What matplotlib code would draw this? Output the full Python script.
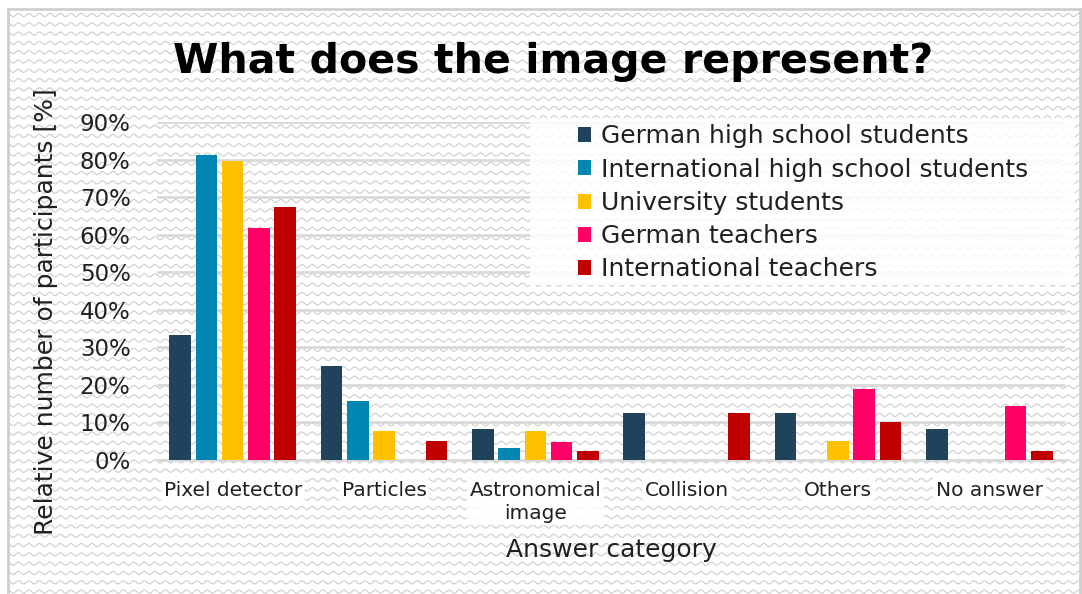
import numpy as np
import matplotlib
matplotlib.use("Agg")
import matplotlib.pyplot as plt
from matplotlib.patches import Rectangle

categories = ["Pixel detector", "Particles", "Astronomical\nimage", "Collision", "Others", "No answer"]
groups = ["German high school students", "International high school students",
          "University students", "German teachers", "International teachers"]
colors = ["#1f435a", "#0086b0", "#ffc000", "#ff0066", "#c00000"]

# share of participants per answer category, in percent
german_students = [33.3, 25.0, 8.3, 12.5, 12.5, 8.3]
intl_students = [81.25, 15.6, 3.1, 0, 0, 0]
university = [79.5, 7.7, 7.7, 0, 5.1, 0]
german_teachers = [61.9, 0, 4.8, 0, 19.0, 14.3]
intl_teachers = [67.5, 5.0, 2.5, 12.5, 10.0, 2.5]
series = [german_students, intl_students, university, german_teachers, intl_teachers]

yticks = [0, 10, 20, 30, 40, 50, 60, 70, 80, 90]

W, H = 1082, 594
plt.rcParams['font.family'] = ['DejaVu Sans']
fig = plt.figure(figsize=(W / 100, H / 100), dpi=100)

# wavy background texture inside a light frame
bg = fig.add_axes([0, 0, 1, 1], zorder=-1)
bg.set_xlim(0, W)
bg.set_ylim(H, 0)
bg.axis("off")
frame = Rectangle((8, 9), W - 10, H, facecolor="white", edgecolor="#cfcfcf", lw=2)
bg.add_patch(frame)
xs = np.linspace(9, W - 3, 2000)
for y0 in np.arange(15, H, 9.3):
    ln, = bg.plot(xs, y0 + 1.6 * np.sin(xs * 2 * np.pi / 10.5), color="#cccccc", lw=0.8)
    ln.set_clip_path(frame)

ax = fig.add_axes([157 / W, (H - 460) / H, (1065 - 157) / W, (460 - 122) / H])
ax.set_facecolor("none")

x = np.arange(len(categories))
slot = 0.173
bw = 0.143
for i, (vals, name, c) in enumerate(zip(series, groups, colors)):
    ax.bar(x + (i - 2) * slot, vals, width=bw, color=c, label=name, zorder=3)

ax.set_xlim(-0.5, len(categories) - 0.5)
ax.set_ylim(0, 90)
ax.set_yticks(yticks)
ax.set_yticklabels([f"{t}%" for t in yticks], fontsize=16.5, color="#202020")
ax.set_xticks(x)
ax.set_xticklabels(categories, fontsize=14.5, color="#202020")
for lab in ax.get_xticklabels():
    lab.set_bbox(dict(facecolor="white", edgecolor="none", alpha=0.9, pad=2))
    lab.set_linespacing(1.25)
ax.tick_params(axis="y", length=0, pad=19)
ax.tick_params(axis="x", length=0, pad=15)
ax.grid(axis="y", color="#d9d9d9", lw=2, zorder=0)
for s in ["top", "right", "left"]:
    ax.spines[s].set_visible(False)
ax.spines["bottom"].set_color("#d9d9d9")
ax.spines["bottom"].set_linewidth(2)

ax.set_xlabel("Answer category", fontsize=18, labelpad=11, color="#202020")
ax.set_ylabel("Relative number of participants [%]", fontsize=18, color="#202020")
ax.yaxis.set_label_coords(58 / W, 1 - 312 / H, transform=fig.transFigure)

# translucent white panel behind the legend
panel = Rectangle((530, 118), 545, 167, transform=bg.transData, facecolor="white",
                  edgecolor="none", alpha=0.85, zorder=4, clip_on=False)
ax.add_patch(panel)
leg = ax.legend(loc="upper left", bbox_to_anchor=(560 / W, 1 - 107 / H),
                bbox_transform=fig.transFigure, fontsize=18, frameon=False,
                handlelength=0.55, handleheight=0.55, handletextpad=0.4,
                labelspacing=0.37, borderpad=0.2)
leg.set_zorder(5)
for t in leg.get_texts():
    t.set_color("#202020")

fig.text(553 / W, 1 - 62 / H, "What does the image represent?", fontsize=29.6,
         fontweight="bold", ha="center", va="center")

fig.savefig("out.png", dpi=100)
